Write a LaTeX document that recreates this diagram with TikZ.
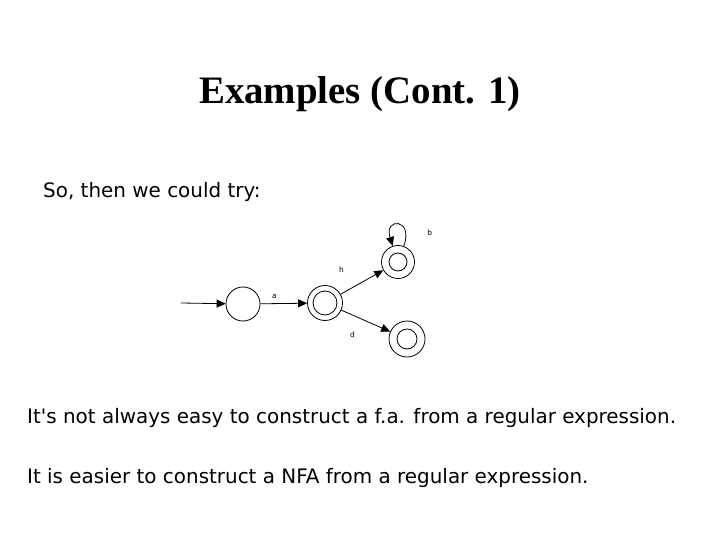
\documentclass[tikz,border=0pt]{standalone}
\usepackage{fontspec}
\setmainfont{Liberation Serif}
\newfontfamily\bodyfont{DejaVu Sans}
\usetikzlibrary{arrows.meta,positioning}

\tikzset{
  state/.style={circle,draw=black,line width=.8bp,minimum size=34bp,inner sep=0pt},
  accept/.style={state,path picture={\draw[line width=.8bp] (path picture bounding box.center) circle (#1);}},
  accept/.default=11bp,
  edgelbl/.style={font=\bodyfont\fontsize{7.5}{8}\selectfont,inner sep=1bp},
  trans/.style={line width=.8bp,arrows={-Triangle[length=9bp,width=8bp]}},
  bodytxt/.style={font=\bodyfont\fontsize{20}{24}\selectfont,anchor=base west,inner sep=0pt}
}

\begin{document}
\begin{tikzpicture}[x=1bp,y=-1bp]
      \useasboundingbox (0,0) rectangle (720,540);

      \node[font=\bfseries\fontsize{39}{42}\selectfont,anchor=base] (title) at (360,104) {Examples (Cont. 1)};

      \node[bodytxt] (try) at (43,198) {So, then we could try:};

      \node[state] (q0) at (243,304) {};
      \node[accept=12bp,minimum size=35bp] (q1) at (325,303) {};
      \node[accept=9bp,minimum size=33bp] (q2) at (398,262) {};
      \node[accept=10bp,minimum size=36bp] (q3) at (407,339) {};

      \coordinate (start) at (181,303);

      \draw[trans] (start) to (q0);
      \draw[trans] (q0) to node[edgelbl,above,pos=.3,yshift=4bp] {a} (q1);
      \draw[trans] (q1) to node[edgelbl,above left,pos=.2,xshift=-4bp,yshift=16bp] {h} (q2);
      \draw[trans] (q1) to node[edgelbl,below left,pos=.45,xshift=-7bp,yshift=-11bp] {d} (q3);
      \draw[trans] (q2) to [out=70,in=108,looseness=7] node[edgelbl,pos=.5,xshift=31bp,yshift=-8bp] {b} (q2);

      \node[bodytxt] (fa) at (27,423) {It's not always easy to construct a f.a. from a regular expression.};
      \node[bodytxt] (nfa) at (27,483) {It is easier to construct a NFA from a regular expression.};
\end{tikzpicture}
\end{document}
